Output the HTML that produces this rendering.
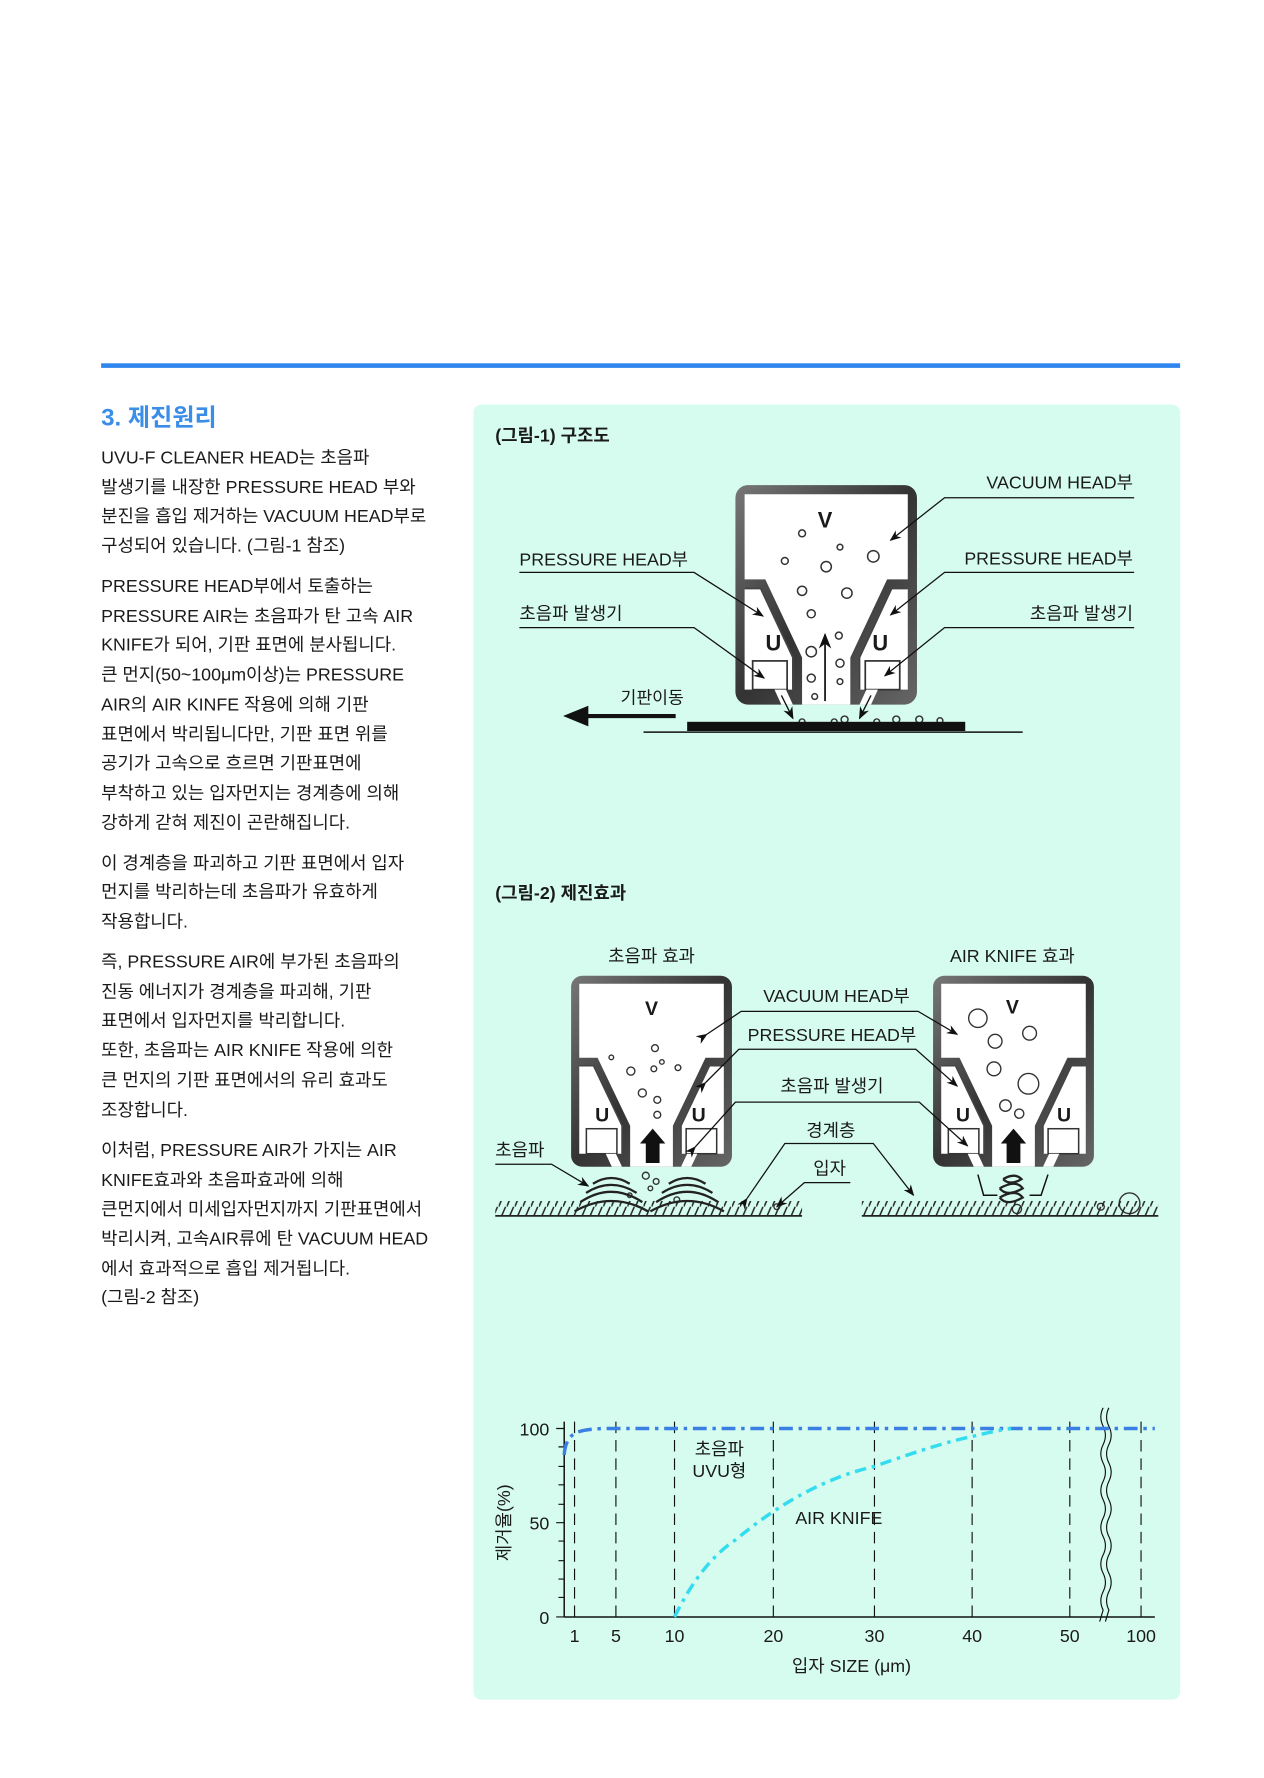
<!DOCTYPE html>
<html><head><meta charset="utf-8"><style>
html,body{margin:0;padding:0;background:#fff;}
svg{display:block;}
text{font-family:"Liberation Sans","Noto Sans CJK KR",sans-serif;fill:#1a1a1a;}
</style></head><body>
<svg width="1264" height="1778" viewBox="0 0 1100 1547" xmlns="http://www.w3.org/2000/svg">
<defs>
<marker id="ah" viewBox="0 0 10 10" refX="9" refY="5" markerWidth="9" markerHeight="9" orient="auto"><path d="M0,1 L10,5 L0,9 L3,5 Z" fill="#111"/></marker>
<pattern id="hatch" width="7" height="14" patternUnits="userSpaceOnUse"><line x1="0" y1="14" x2="6" y2="0" stroke="#222" stroke-width="1.3"/></pattern>
<linearGradient id="wall" x1="0" y1="0" x2="1" y2="1"><stop offset="0" stop-color="#777"/><stop offset="0.5" stop-color="#333"/><stop offset="1" stop-color="#666"/></linearGradient>
<g id="head">
<rect x="0" y="0" width="158" height="191" rx="11" fill="url(#wall)"/>
<path d="M8,8 H150 V82 H132 L100,150 V191 H58 V150 L26,82 H8 Z" fill="#fff"/>
<path d="M8,90 H22 L50,150 V178 H8 Z" fill="#fff"/>
<path d="M150,90 H136 L108,150 V178 H150 Z" fill="#fff"/>
<path d="M8,90 H22 L50,150 V178" fill="none" stroke="#444" stroke-width="1.5"/>
<path d="M150,90 H136 L108,150 V178" fill="none" stroke="#444" stroke-width="1.5"/>
<rect x="15" y="153" width="30" height="25" fill="#fff" stroke="#333" stroke-width="1.5"/>
<rect x="113" y="153" width="30" height="25" fill="#fff" stroke="#333" stroke-width="1.5"/>
<path d="M34,178 L44,178 L50,191 L40,191 Z" fill="#fff"/>
<path d="M124,178 L114,178 L108,191 L118,191 Z" fill="#fff"/>
</g>
</defs>

<rect x="88" y="316" width="939" height="4" fill="#2f86ee"/>
<text x="88" y="370" font-size="21" font-weight="bold" style="fill:#3a8ee8">3. 제진원리</text>
<g font-size="15.5">
<text x="88" y="403">UVU-F CLEANER HEAD는 초음파</text>
<text x="88" y="429">발생기를 내장한 PRESSURE HEAD 부와</text>
<text x="88" y="454">분진을 흡입 제거하는 VACUUM HEAD부로</text>
<text x="88" y="480">구성되어 있습니다. (그림-1 참조)</text>
<text x="88" y="515">PRESSURE HEAD부에서 토출하는</text>
<text x="88" y="541">PRESSURE AIR는 초음파가 탄 고속 AIR</text>
<text x="88" y="566">KNIFE가 되어, 기판 표면에 분사됩니다.</text>
<text x="88" y="592">큰 먼지(50~100μm이상)는 PRESSURE</text>
<text x="88" y="618">AIR의 AIR KINFE 작용에 의해 기판</text>
<text x="88" y="644">표면에서 박리됩니다만, 기판 표면 위를</text>
<text x="88" y="669">공기가 고속으로 흐르면 기판표면에</text>
<text x="88" y="695">부착하고 있는 입자먼지는 경계층에 의해</text>
<text x="88" y="721">강하게 갇혀 제진이 곤란해집니다.</text>
<text x="88" y="756">이 경계층을 파괴하고 기판 표면에서 입자</text>
<text x="88" y="781">먼지를 박리하는데 초음파가 유효하게</text>
<text x="88" y="807">작용합니다.</text>
<text x="88" y="842">즉, PRESSURE AIR에 부가된 초음파의</text>
<text x="88" y="868">진동 에너지가 경계층을 파괴해, 기판</text>
<text x="88" y="893">표면에서 입자먼지를 박리합니다.</text>
<text x="88" y="919">또한, 초음파는 AIR KNIFE 작용에 의한</text>
<text x="88" y="945">큰 먼지의 기판 표면에서의 유리 효과도</text>
<text x="88" y="971">조장합니다.</text>
<text x="88" y="1006">이처럼, PRESSURE AIR가 가지는 AIR</text>
<text x="88" y="1032">KNIFE효과와 초음파효과에 의해</text>
<text x="88" y="1057">큰먼지에서 미세입자먼지까지 기판표면에서</text>
<text x="88" y="1083">박리시켜, 고속AIR류에 탄 VACUUM HEAD</text>
<text x="88" y="1109">에서 효과적으로 흡입 제거됩니다.</text>
<text x="88" y="1134">(그림-2 참조)</text>
</g>

<rect x="412" y="352" width="615" height="1127" rx="7" fill="#d6fcef"/>

<!-- Fig 1 -->
<text x="431" y="384" font-size="15.5" font-weight="bold">(그림-1) 구조도</text>
<use href="#head" x="640" y="422"/>
<g font-weight="bold" font-size="19"><text x="718" y="459" text-anchor="middle">V</text><text x="673" y="566" text-anchor="middle">U</text><text x="766" y="566" text-anchor="middle">U</text></g>
<g fill="none" stroke="#333" stroke-width="1.3">
<circle cx="698" cy="464" r="3"/><circle cx="731" cy="476" r="2.5"/><circle cx="683" cy="488" r="3"/><circle cx="719" cy="493" r="4.5"/><circle cx="760" cy="484" r="5"/>
<circle cx="698" cy="514" r="4"/><circle cx="737" cy="516" r="4.5"/><circle cx="706" cy="534" r="3.5"/><circle cx="730" cy="553" r="3"/><circle cx="706" cy="567" r="4.5"/><circle cx="731" cy="577" r="3.5"/><circle cx="706" cy="590" r="3.5"/><circle cx="731" cy="593" r="2.5"/><circle cx="709" cy="606" r="2.5"/>
<circle cx="698" cy="628" r="2.5"/><circle cx="726" cy="628" r="2.5"/><circle cx="735" cy="626" r="3"/><circle cx="763" cy="628" r="2.5"/><circle cx="780" cy="626" r="3"/><circle cx="800" cy="626" r="3"/><circle cx="818" cy="627" r="2.5"/>
</g>
<line x1="718" y1="610" x2="718" y2="552" stroke="#111" stroke-width="1.5" marker-end="url(#ah)"/>
<line x1="680" y1="605" x2="690" y2="625" stroke="#111" stroke-width="1.2" marker-end="url(#ah)"/>
<line x1="758" y1="605" x2="748" y2="625" stroke="#111" stroke-width="1.2" marker-end="url(#ah)"/>
<rect x="598" y="628" width="242" height="8" fill="#111"/>
<line x1="560" y1="637" x2="890" y2="637" stroke="#111" stroke-width="1.3"/>
<line x1="505" y1="623" x2="588" y2="623" stroke="#111" stroke-width="3.5"/>
<path d="M490,623 L512,614 L512,632 Z" fill="#111"/>
<text x="540" y="612" font-size="15">기판이동</text>
<g font-size="15.5">
<text x="986" y="425" text-anchor="end">VACUUM HEAD부</text>
<text x="452" y="492">PRESSURE HEAD부</text>
<text x="986" y="491" text-anchor="end">PRESSURE HEAD부</text>
<text x="452" y="539">초음파 발생기</text>
<text x="986" y="539" text-anchor="end">초음파 발생기</text>
</g>
<g fill="none" stroke="#111" stroke-width="1.1">
<polyline points="987,433 822,433 775,470" marker-end="url(#ah)"/>
<polyline points="452,498 604,498 664,536" marker-end="url(#ah)"/>
<polyline points="987,498 822,498 775,535" marker-end="url(#ah)"/>
<polyline points="452,546 604,546 665,590" marker-end="url(#ah)"/>
<polyline points="987,546 822,546 770,588" marker-end="url(#ah)"/>
</g>

<!-- Fig 2 -->
<text x="431" y="782" font-size="15.5" font-weight="bold">(그림-2) 제진효과</text>
<text x="567" y="837" font-size="15.5" text-anchor="middle">초음파 효과</text>
<text x="881" y="837" font-size="15.5" text-anchor="middle">AIR KNIFE 효과</text>
<g transform="translate(497,849) scale(0.886,0.87)"><use href="#head"/></g>
<g transform="translate(812,849) scale(0.886,0.87)"><use href="#head"/></g>
<g font-weight="bold" font-size="17">
<text x="567" y="883" text-anchor="middle">V</text><text x="524" y="976" text-anchor="middle">U</text><text x="608" y="976" text-anchor="middle">U</text>
<text x="881" y="882" text-anchor="middle">V</text><text x="838" y="976" text-anchor="middle">U</text><text x="926" y="976" text-anchor="middle">U</text>
</g>
<g fill="none" stroke="#333" stroke-width="1.2">
<circle cx="570" cy="912" r="3"/><circle cx="532" cy="920" r="2"/><circle cx="549" cy="932" r="3.5"/><circle cx="569" cy="930" r="2.5"/><circle cx="576" cy="924" r="2"/><circle cx="590" cy="929" r="2.5"/><circle cx="559" cy="951" r="3.5"/><circle cx="572" cy="957" r="3"/><circle cx="572" cy="970" r="3"/>
<circle cx="562" cy="1023" r="3"/><circle cx="571" cy="1028" r="2.5"/><circle cx="566" cy="1034" r="2"/><circle cx="548" cy="1040" r="2"/><circle cx="589" cy="1044" r="2.5"/><circle cx="676" cy="1050" r="2.5"/>
<circle cx="851" cy="886" r="8"/><circle cx="866" cy="906" r="6"/><circle cx="896" cy="899" r="6"/><circle cx="865" cy="930" r="6"/><circle cx="895" cy="943" r="9"/><circle cx="875" cy="962" r="5"/><circle cx="887" cy="969" r="4"/>
<circle cx="983" cy="1047" r="9"/><circle cx="885" cy="1052" r="4"/><circle cx="958" cy="1050" r="3"/>
</g>
<g fill="none" stroke="#222" stroke-width="2">
<path d="M516,1030 Q532,1020 548,1030"/><path d="M510,1038 Q532,1024 554,1038"/><path d="M505,1046 Q532,1028 559,1046"/><path d="M500,1054 Q532,1036 564,1054"/>
<path d="M582,1030 Q598,1020 614,1030"/><path d="M576,1038 Q598,1024 620,1038"/><path d="M571,1046 Q598,1028 625,1046"/><path d="M566,1054 Q598,1036 630,1054"/>
<path d="M873,1026 q10,-6 16,0 q-10,6 -16,0"/><path d="M870,1034 q14,-8 20,0 q-14,8 -20,0"/><path d="M870,1042 q14,-8 20,0 q-14,8 -20,0"/>
</g>
<g fill="#111">
<path d="M562,1012 V995 H557 L568,982 L579,995 H574 V1012 Z"/>
<path d="M876,1012 V995 H871 L882,982 L893,995 H888 V1012 Z"/>
</g>
<g fill="none" stroke="#111" stroke-width="1.3">
<polyline points="851,1022 856,1040 868,1040"/>
<polyline points="912,1022 906,1040 896,1040"/>
</g>
<rect x="431" y="1045" width="267" height="13" fill="url(#hatch)"/>
<line x1="431" y1="1058" x2="698" y2="1058" stroke="#222" stroke-width="1.5"/>
<rect x="750" y="1045" width="258" height="13" fill="url(#hatch)"/>
<line x1="750" y1="1058" x2="1008" y2="1058" stroke="#222" stroke-width="1.5"/>
<g font-size="15.5">
<text x="728" y="872" text-anchor="middle">VACUUM HEAD부</text>
<text x="724" y="906" text-anchor="middle">PRESSURE HEAD부</text>
<text x="724" y="950" text-anchor="middle">초음파 발생기</text>
<text x="723" y="989" text-anchor="middle">경계층</text>
<text x="722" y="1022" text-anchor="middle">입자</text>
<text x="431" y="1006">초음파</text>
</g>
<g fill="none" stroke="#111" stroke-width="1.1">
<polyline points="615,900 645,880 799,880 833,900" marker-start="url(#ah)" marker-end="url(#ah)"/>
<polyline points="614,942 643,913 797,913 833,945" marker-start="url(#ah)" marker-end="url(#ah)"/>
<polyline points="605,998 640,959 800,959 842,997" marker-start="url(#ah)" marker-end="url(#ah)"/>
<polyline points="650,1043 683,995 760,995 795,1040" marker-start="url(#ah)" marker-end="url(#ah)"/>
<polyline points="740,1029 700,1029 676,1050" marker-end="url(#ah)"/>
<polyline points="431,1013 480,1013 512,1032" marker-end="url(#ah)"/>
</g>

<!-- Chart -->
<g stroke="#111" fill="none">
<line x1="491" y1="1237" x2="491" y2="1407" stroke-width="1.3"/>
<line x1="491" y1="1407" x2="1005" y2="1407" stroke-width="1.3"/>
<path d="M484,1243 H491 M484,1325 H491 M484,1407 H491 M486,1259 H491 M486,1276 H491 M486,1292 H491 M486,1309 H491 M486,1341 H491 M486,1358 H491 M486,1374 H491 M486,1390 H491" stroke-width="1"/>
<g stroke-dasharray="10,6" stroke-width="1">
<line x1="500" y1="1237" x2="500" y2="1407"/><line x1="536" y1="1237" x2="536" y2="1407"/><line x1="587" y1="1237" x2="587" y2="1407"/><line x1="673" y1="1237" x2="673" y2="1407"/><line x1="761" y1="1237" x2="761" y2="1407"/><line x1="846" y1="1237" x2="846" y2="1407"/><line x1="931" y1="1237" x2="931" y2="1407"/><line x1="993" y1="1237" x2="993" y2="1407"/>
</g>
<path d="M960,1225 q-4,8 0,16 q4,8 0,16 q-4,8 0,16 q4,8 0,16 q-4,8 0,16 q4,8 0,16 q-4,8 0,16 q4,8 0,16 q-4,8 0,16 q4,8 0,16 q-4,8 0,16 l-3,10" stroke-width="1"/>
<path d="M965,1225 q-4,8 0,16 q4,8 0,16 q-4,8 0,16 q4,8 0,16 q-4,8 0,16 q4,8 0,16 q-4,8 0,16 q4,8 0,16 q-4,8 0,16 q4,8 0,16 q-4,8 0,16 l-3,10" stroke-width="1"/>
</g>
<path d="M491,1266 Q492,1250 503,1246 Q512,1243 530,1243 H1005" fill="none" stroke="#3a7fe4" stroke-width="3" stroke-dasharray="12,5,3,5"/>
<path d="M587,1407 Q610,1360 640,1340 Q700,1290 761,1276 Q820,1255 846,1250 Q865,1245 880,1243" fill="none" stroke="#33dcef" stroke-width="3" stroke-dasharray="10,5,3,5"/>
<g font-size="15.5">
<text x="478" y="1249" text-anchor="end">100</text>
<text x="478" y="1331" text-anchor="end">50</text>
<text x="478" y="1413" text-anchor="end">0</text>
<text x="500" y="1429" text-anchor="middle">1</text><text x="536" y="1429" text-anchor="middle">5</text><text x="587" y="1429" text-anchor="middle">10</text><text x="673" y="1429" text-anchor="middle">20</text><text x="761" y="1429" text-anchor="middle">30</text><text x="846" y="1429" text-anchor="middle">40</text><text x="931" y="1429" text-anchor="middle">50</text><text x="993" y="1429" text-anchor="middle">100</text>
<text x="741" y="1455" text-anchor="middle">입자 SIZE (μm)</text>
<text x="626" y="1266" text-anchor="middle">초음파</text>
<text x="626" y="1285" text-anchor="middle">UVU형</text>
<text x="730" y="1326" text-anchor="middle">AIR KNIFE</text>
<text x="0" y="0" transform="translate(444,1325) rotate(-90)" text-anchor="middle">제거율(%)</text>
</g>
</svg>
</body></html>
